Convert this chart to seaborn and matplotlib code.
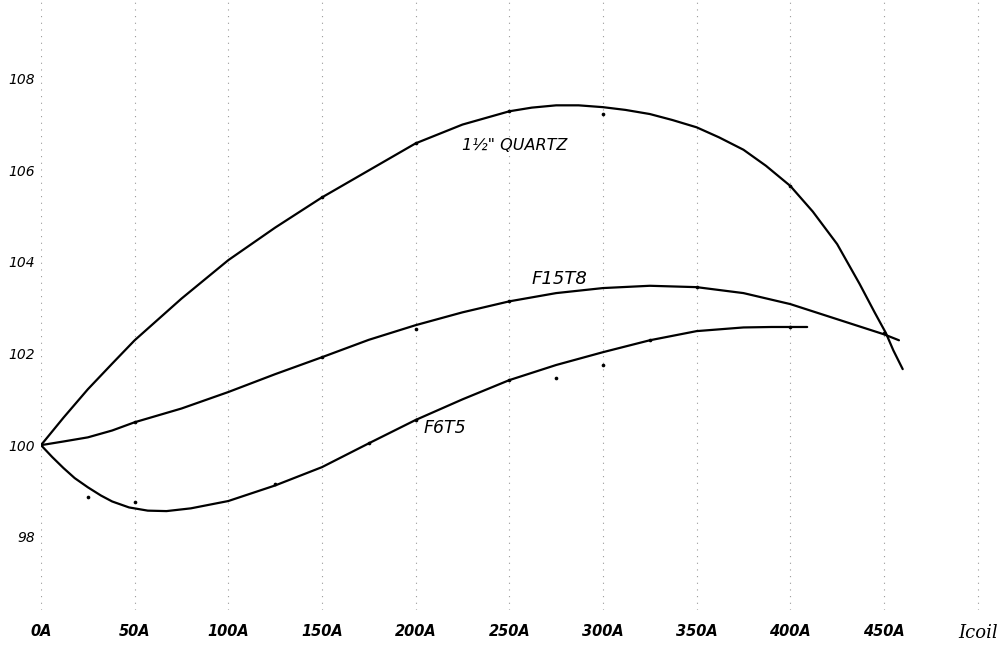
import numpy as np
import pandas as pd
import seaborn as sns
import matplotlib.pyplot as plt

# --- Data (coil current in A, relative output) ---
quartz_a = [0, 12, 25, 38, 50, 75, 100, 125, 150, 175, 200, 225, 250, 262, 275,
            287, 300, 312, 325, 337, 350, 362, 375, 387, 400, 412, 425, 437, 445,
            451, 455, 460]
quartz_v = [100.0, 100.6, 101.22, 101.78, 102.29, 103.2, 104.04, 104.75, 105.41,
            106.0, 106.59, 107.0, 107.29, 107.37, 107.42, 107.42, 107.38, 107.32,
            107.23, 107.1, 106.94, 106.72, 106.45, 106.1, 105.66, 105.1, 104.39,
            103.52, 102.9, 102.45, 102.07, 101.66]

f15t8_a = [0, 12, 25, 38, 50, 75, 100, 125, 150, 175, 200, 225, 250, 275, 300,
           325, 350, 375, 400, 425, 450, 458]
f15t8_v = [100.0, 100.08, 100.17, 100.32, 100.5, 100.8, 101.16, 101.55, 101.92,
           102.3, 102.62, 102.9, 103.14, 103.32, 103.43, 103.48, 103.45, 103.32,
           103.08, 102.75, 102.42, 102.29]

f6t5_a = [0, 6, 12, 18, 25, 32, 38, 47, 57, 67, 80, 100, 125, 150, 175, 200, 225,
          250, 275, 300, 325, 350, 375, 390, 409]
f6t5_v = [100.0, 99.74, 99.5, 99.28, 99.08, 98.9, 98.77, 98.64, 98.57, 98.56,
          98.62, 98.78, 99.12, 99.52, 100.04, 100.55, 101.0, 101.42, 101.75,
          102.03, 102.29, 102.49, 102.57, 102.58, 102.58]

# measured points marked on the sheet
dots_a = [150, 200, 250, 300, 400, 450, 50, 150, 200, 250, 350,
          25, 50, 125, 175, 200, 250, 275, 300, 325, 400]
dots_v = [105.41, 106.59, 107.29, 107.23, 105.66, 102.45, 100.5, 101.92, 102.53,
          103.14, 103.45, 98.86, 98.76, 99.15, 100.04, 100.55, 101.42, 101.46,
          101.75, 102.29, 102.58]

x_ticks = [0, 50, 100, 150, 200, 250, 300, 350, 400, 450, 500]
x_labels = ["0A", "50A", "100A", "150A", "200A", "250A", "300A", "350A",
            "400A", "450A", "Icoil"]
y_ticks = [98, 100, 102, 104, 106, 108]
y_labels = ["98", "100", "102", "104", "106", "108"]

df = pd.concat([
    pd.DataFrame({"I": quartz_a, "out": quartz_v, "lamp": "quartz"}),
    pd.DataFrame({"I": f15t8_a, "out": f15t8_v, "lamp": "F15T8"}),
    pd.DataFrame({"I": f6t5_a, "out": f6t5_v, "lamp": "F6T5"}),
])
dots = pd.DataFrame({"I": dots_a, "out": dots_v})

# --- Plot ---
sns.set_theme(style="white")
fig = plt.figure(figsize=(10, 6.46), dpi=100)
ax = fig.add_axes([0.041, 0.0557, 0.946, 0.9443])

sns.lineplot(data=df, x="I", y="out", hue="lamp", sort=False, estimator=None,
             palette=["black", "black", "black"], linewidth=1.6, legend=False, ax=ax)
for line in ax.get_lines():
    line.set_solid_joinstyle("round")
sns.scatterplot(data=dots, x="I", y="out", color="black", s=7, linewidth=0, ax=ax)

ax.set_xlim(0, 505)
ax.set_ylim(96.4, 109.72)
ax.set_xticks(x_ticks)
ax.set_xticklabels(x_labels, fontsize=10.5, style="italic", weight="bold", color="black")
icoil = ax.get_xticklabels()[-1]
icoil.set_family("DejaVu Serif")
icoil.set_weight("normal")
icoil.set_fontsize(13)
ax.set_yticks(y_ticks)
ax.set_yticklabels(y_labels, fontsize=10, style="italic", color="black")
ax.tick_params(axis="x", length=0, pad=10)
ax.tick_params(axis="y", length=0, pad=4)
ax.set_xlabel("")
ax.set_ylabel("")
for s in ax.spines.values():
    s.set_visible(False)

# faint broken grid lines like the scan
ax.grid(axis="x", linestyle=(0, (1, 5)), color="0.6", linewidth=0.8)

ax.text(225, 106.55, "1½\" QUARTZ", fontsize=11.5, style="italic", va="center", color="black")
ax.text(262, 103.62, "F15T8", fontsize=13, style="italic", va="center", color="black")
ax.text(204, 100.37, "F6T5", fontsize=12.5, style="italic", va="center", color="black")

fig.savefig("out.png", dpi=100)
